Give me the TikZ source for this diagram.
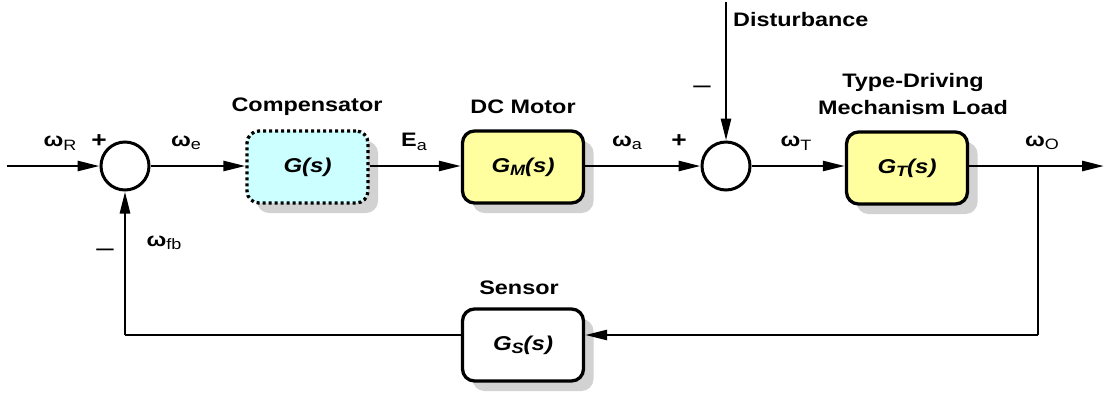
\documentclass[tikz,border=0pt]{standalone}
\usepackage{fontspec}
\setmainfont{Liberation Sans}[FakeStretch=1.2]
\usetikzlibrary{arrows.meta,shadows}
\newcommand\sbs[1]{\raisebox{-0.35ex}{\fontsize{15}{15}\selectfont\mdseries #1}}
\newcommand\bsb[1]{\raisebox{-0.3ex}{\fontsize{15}{15}\selectfont #1}}
\begin{document}
\begin{tikzpicture}[x=1pt,y=1pt,
  every node/.style={font=\fontsize{19.5}{22}\selectfont\bfseries},
  conn/.style={line width=2.6pt,-{Triangle[length=22pt,width=10pt]}},
  plain/.style={line width=2.6pt},
  sumnode/.style={circle,draw,line width=3pt,minimum size=48pt,inner sep=0pt,fill=white},
  blk/.style={draw,line width=3.3pt,rounded corners=12pt,minimum width=121pt,minimum height=72pt,inner sep=0pt,
    font=\fontsize{20}{22}\selectfont\bfseries\itshape,
    drop shadow={shadow xshift=10pt,shadow yshift=-10pt,fill=gray!35,opacity=1}},
  lbl/.style={inner sep=0pt},
  sign/.style={inner sep=0pt,font=\fontsize{26}{26}\selectfont\mdseries}
]
\useasboundingbox (0,0) rectangle (1107,-392);
% nodes
\coordinate (in) at (7,-166);
\node[sumnode] (s1) at (125,-166) {};
\node[blk,fill={rgb,255:red,204;green,255;blue,255},dash pattern=on 3pt off 3pt] (comp) at (307.5,-167) {G(s)};
\node[blk,fill={rgb,255:red,255;green,255;blue,160}] (mot) at (523,-167) {G\bsb{M}(s)};
\node[sumnode] (s2) at (726,-166) {};
\node[blk,fill={rgb,255:red,255;green,255;blue,160}] (load) at (907,-168) {G\bsb{T}(s)};
\node[blk,fill=white] (sens) at (523,-345) {G\bsb{S}(s)};
\coordinate (dist) at (726,-2);
\coordinate (out) at (1104,-166);
\coordinate (br) at (1038,-166);
\coordinate (brd) at (1038,-335);
\coordinate (fbl) at (125,-335);
% connectors
\draw[conn] (in) -- (s1.west);
\draw[conn] (s1.east) -- (comp.west |- s1);
\draw[conn] (comp.east |- s1) -- (mot.west |- s1);
\draw[conn] (mot.east |- s1) -- (s2.west);
\draw[conn] (dist) -- (s2.north);
\draw[conn] (s2.east) -- (load.west |- s2);
\draw[conn] (load.east |- s2) -- (out);
\draw[plain] (br) -- (brd);
\draw[conn] (brd) -- (sens.east |- brd);
\draw[plain] (sens.west |- brd) -- (fbl);
\draw[conn] (fbl) -- (s1.south);
% labels
\node[lbl] (wR) at (60,-143) {ω\sbs{R}};
\node[lbl,font=\fontsize{22}{22}\selectfont\bfseries] (p1) at (99,-141) {+};
\node[lbl] (we) at (186,-143) {ω\sbs{e}};
\node[lbl] (wfb) at (164,-243) {ω\sbs{fb}};
\node[sign] (m1) at (105,-253) {–};
\node[lbl] (lcomp) at (307,-107) {Compensator};
\node[lbl] (Ea) at (414,-142) {E\sbs{a}};
\node[lbl] (lmot) at (523,-107) {DC Motor};
\node[lbl] (wa) at (627,-143) {ω\sbs{a}};
\node[lbl,font=\fontsize{22}{22}\selectfont\bfseries] (p2) at (679,-141) {+};
\node[sign] (m2) at (702,-90) {–};
\node[lbl,anchor=west] (ldist) at (733,-20) {Disturbance};
\node[lbl] (wTlab) at (796,-143) {ω\sbs{T}};
\node[lbl,align=center] (lload) at (913,-94) {Type-Driving\\[5pt]Mechanism Load};
\node[lbl] (wO) at (1042,-143) {ω\sbs{O}};
\node[lbl] (lsens) at (519,-288) {Sensor};
\end{tikzpicture}
\end{document}
